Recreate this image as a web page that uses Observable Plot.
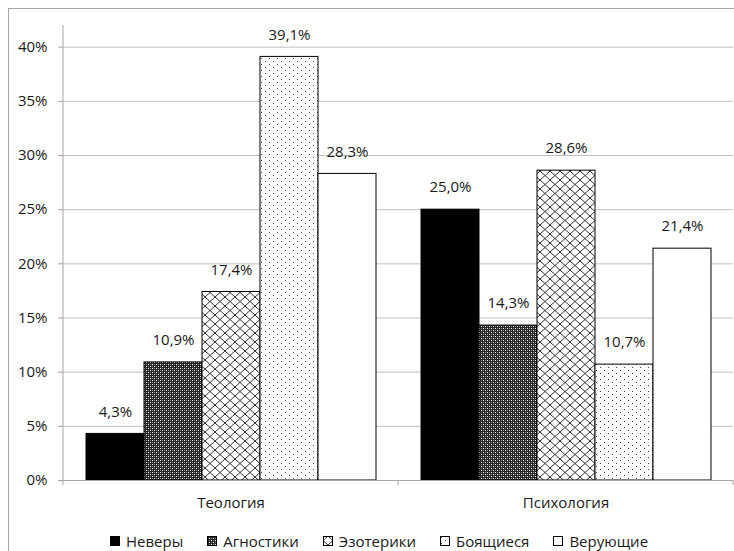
<!DOCTYPE html>
<html><head><meta charset="utf-8">
<script src="https://cdn.jsdelivr.net/npm/d3@7"></script>
<script src="https://cdn.jsdelivr.net/npm/@observablehq/plot@0.6"></script>
<style>
body{margin:0;background:#fff;font-family:"Open Sans",sans-serif;}
#frame{position:absolute;left:8px;top:8px;width:740px;height:560px;border:1px solid #a6a6a6;box-sizing:border-box;}
#chart{position:absolute;left:0;top:0;}
#legend{position:absolute;left:110px;top:531px;height:20px;display:flex;align-items:center;font-size:15px;color:#1a1a1a;white-space:nowrap;}
#legend .item{display:flex;align-items:center;margin-right:24px;}
#legend svg{margin-right:6px;}
</style></head>
<body>
<svg width="0" height="0" style="position:absolute">
 <defs>
  <pattern id="pAgn" patternUnits="userSpaceOnUse" width="4" height="4">
   <rect width="4" height="4" fill="#262626"/>
   <rect x="0" y="0" width="1" height="1" fill="#fff"/>
   <rect x="2" y="2" width="1" height="1" fill="#fff"/>
   <rect x="2" y="0" width="1" height="1" fill="#8a8a8a"/>
   <rect x="0" y="2" width="1" height="1" fill="#8a8a8a"/>
  </pattern>
  <pattern id="pEzo" patternUnits="userSpaceOnUse" width="10" height="9">
   <rect width="10" height="9" fill="#fff"/>
   <path d="M0,4.5 L5,0 L10,4.5 L5,9 Z" fill="none" stroke="#333" stroke-width="1"/>
   <path d="M5,0 L7,2" fill="none" stroke="#333" stroke-width="1"/>
  </pattern>
  <pattern id="pBoy" patternUnits="userSpaceOnUse" width="8" height="6">
   <rect width="8" height="6" fill="#fff"/>
   <rect x="1" y="1" width="1" height="1" fill="#444"/>
   <rect x="5" y="4" width="1" height="1" fill="#444"/>
  </pattern>
 </defs>
</svg>
<div id="frame"></div>
<div id="chart"></div>
<div id="legend"></div>
<script>
const categories = ["Теология", "Психология"];
const series = ["Неверы", "Агностики", "Эзотерики", "Боящиеся", "Верующие"];
const teologia = [4.3, 10.9, 17.4, 39.1, 28.3];
const psihologia = [25.0, 14.3, 28.6, 10.7, 21.4];
const yTicks = [0, 5, 10, 15, 20, 25, 30, 35, 40];
const fills = ["#000", "url(#pAgn)", "url(#pEzo)", "url(#pBoy)", "#fff"];

const rows = [];
series.forEach((s, i) => rows.push({category: categories[0], series: s, value: teologia[i]}));
series.forEach((s, i) => rows.push({category: categories[1], series: s, value: psihologia[i]}));
const fmt = v => d3.format(".1f")(v).replace(".", ",") + "%";

const chart = Plot.plot({
  width: 734, height: 520,
  marginLeft: 63, marginRight: 1, marginTop: 25, marginBottom: 40,
  style: {background: "transparent", fontFamily: "'Open Sans', sans-serif", fontSize: "15px", color: "#1a1a1a"},
  fx: {domain: categories, padding: 0, label: null},
  x: {domain: series, paddingInner: 0, paddingOuter: 0.339, axis: null},
  y: {domain: [0, 42], label: null},
  color: {domain: series, range: fills},
  marks: [
    Plot.ruleY(yTicks.slice(1), {stroke: "#c0c0c0", strokeWidth: 1}),
    Plot.barY(rows, {fx: "category", x: "series", y: "value", fill: "series", stroke: "#000", strokeWidth: 1}),
    Plot.text(rows, {fx: "category", x: "series", y: "value", text: d => fmt(d.value), dy: -22, fontSize: 15, fill: "#1a1a1a"}),
    Plot.ruleY([0], {stroke: "#a6a6a6", strokeWidth: 1}),
    Plot.axisY({ticks: yTicks, tickSize: 5, tickPadding: 11, tickFormat: d => d + "%", label: null, stroke: "#a6a6a6", fill: "#1a1a1a", fontSize: 15}),
    Plot.axisFx({anchor: "bottom", tickSize: 0, tickPadding: 17, label: null, fontSize: 15, fill: "#1a1a1a"})
  ]
});
document.getElementById("chart").appendChild(chart);

// axis line and category boundary ticks, from the plot's own scales
const fx = chart.scale("fx"), ys = chart.scale("y");
const svg = d3.select(chart);
const y0 = ys.range[0], yTop = ys.range[1];
const xl = fx.range[0];
svg.append("line").attr("x1", xl).attr("x2", xl).attr("y1", yTop).attr("y2", y0)
  .attr("stroke", "#a6a6a6");
const n = fx.domain.length, step = (fx.range[1] - fx.range[0]) / n;
for (let i = 0; i <= n; i++) {
  const x = fx.range[0] + i * step;
  svg.append("line").attr("x1", x).attr("x2", x).attr("y1", y0).attr("y2", y0 + 5)
    .attr("stroke", "#a6a6a6");
}

// legend
const legend = document.getElementById("legend");
series.forEach((s, i) => {
  const item = document.createElement("div");
  item.className = "item";
  item.innerHTML = `<svg width="10" height="10"><rect x="0.5" y="0.5" width="9" height="9" fill="${fills[i]}" stroke="#000"/></svg><span>${s}</span>`;
  legend.appendChild(item);
});
</script>
</body></html>
